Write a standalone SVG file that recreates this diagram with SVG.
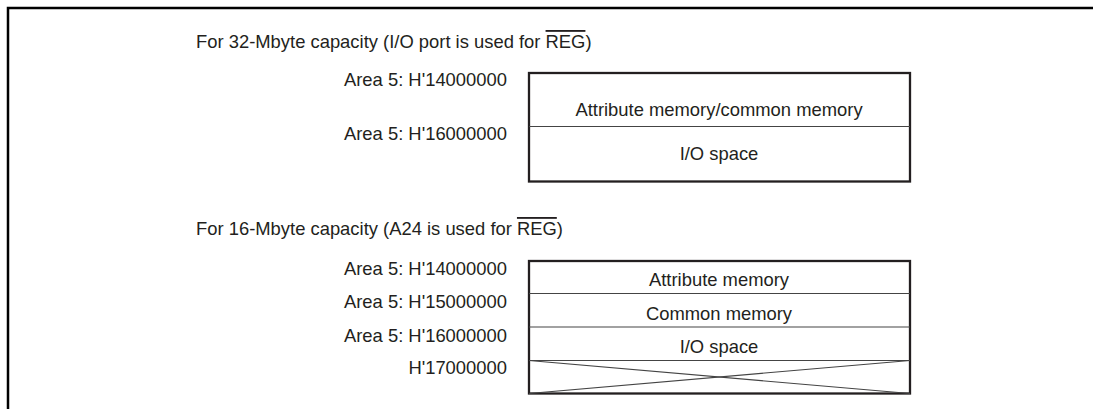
<svg xmlns="http://www.w3.org/2000/svg" width="1093" height="409" viewBox="0 0 1093 409">
<style>
text{font-family:"Liberation Sans",Arial,sans-serif;font-size:18.4px;fill:#231f20}
.r{text-anchor:end}
.c{text-anchor:middle}
.box{fill:none;stroke:#231f20;stroke-width:2.3}
.div{stroke:#444;stroke-width:1.1}
.ol{text-decoration:overline}
</style>
<rect width="1093" height="409" fill="#fff"/>
<g id="frame"><path d="M8,409 V8 H1093" fill="none" stroke="#000" stroke-width="2.5"/></g>
<g id="title1"><text x="196" y="48">For 32-Mbyte capacity (I/O port is used for <tspan class="ol">REG</tspan>)</text></g>
<g id="map32">
<rect class="box" x="529" y="73" width="381" height="108.5"/>
<line class="div" x1="529" y1="126.5" x2="910" y2="126.5"/>
<text class="c" x="719" y="115.5">Attribute memory/common memory</text>
<text class="c" x="719" y="160">I/O space</text>
<text class="r" x="507" y="86">Area 5: H'14000000</text>
<text class="r" x="507" y="140">Area 5: H'16000000</text>
</g>
<g id="title2"><text x="196" y="235">For 16-Mbyte capacity (A24 is used for <tspan class="ol">REG</tspan>)</text></g>
<g id="map16">
<rect class="box" x="529" y="261" width="381" height="132.5"/>
<line class="div" x1="529" y1="293.5" x2="910" y2="293.5"/>
<line class="div" x1="529" y1="327" x2="910" y2="327"/>
<line class="div" x1="529" y1="360.5" x2="910" y2="360.5"/>
<line class="div" x1="529" y1="360.5" x2="910" y2="393.5"/>
<line class="div" x1="529" y1="393.5" x2="910" y2="360.5"/>
<text class="c" x="719" y="286">Attribute memory</text>
<text class="c" x="719" y="320">Common memory</text>
<text class="c" x="719" y="353">I/O space</text>
<text class="r" x="507" y="275">Area 5: H'14000000</text>
<text class="r" x="507" y="308">Area 5: H'15000000</text>
<text class="r" x="507" y="342">Area 5: H'16000000</text>
<text class="r" x="507" y="374">H'17000000</text>
</g>
</svg>
